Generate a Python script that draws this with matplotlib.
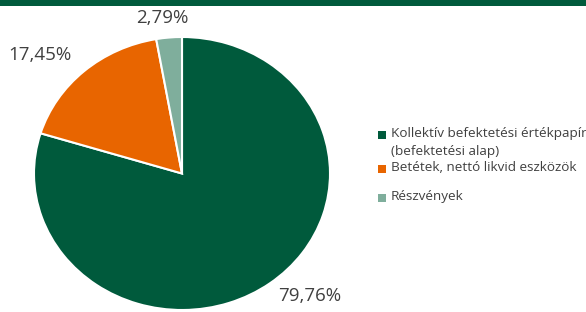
import matplotlib.pyplot as plt
from matplotlib.patches import Rectangle

# Adatok
categories = [
    "Kollektív befektetési értékpapír\n(befektetési alap)",
    "Betétek, nettó likvid eszközök",
    "Részvények",
]
values = [79.76, 17.45, 2.79]
value_labels = ["79,76%", "17,45%", "2,79%"]
colors = ["#005A3C", "#E86500", "#7FAE9C"]

plt.rcParams["font.family"] = ["Open Sans", "DejaVu Sans"]

fig = plt.figure(figsize=(5.86, 3.12), dpi=100)

# zöld sáv a tetején
fig.patches.append(Rectangle((0, 1 - 6 / 312), 1, 6 / 312, transform=fig.transFigure,
                             facecolor="#005A3C", edgecolor="none"))

ax = fig.add_axes([34 / 586, 2 / 312, 296 / 586, 273 / 312])
wedges, _ = ax.pie(values, colors=colors, startangle=90, counterclock=False,
                   wedgeprops=dict(edgecolor="white", linewidth=1.5))
ax.set_aspect("auto")
ax.set_xlim(-1, 1)
ax.set_ylim(-1, 1)
ax.axis("off")

# százalék címkék (Excel "best fit" helyek)
label_pos = [(0.865, -0.90), (-0.96, 0.87), (-0.13, 1.14)]
for (lx, ly), txt in zip(label_pos, value_labels):
    ax.text(lx, ly, txt, ha="center", va="center", fontsize=13.5, color="#404040",
            clip_on=False)

# jelmagyarázat
leg_y = [135, 169, 198]
for y, c, lab in zip(leg_y, colors, categories):
    fig.patches.append(Rectangle((378 / 586, 1 - (y + 4) / 312), 8 / 586, 8 / 312,
                                 transform=fig.transFigure, facecolor=c, edgecolor="none"))
    fig.text(391 / 586, 1 - (y - 8) / 312, lab, ha="left", va="top", fontsize=9.7,
             color="#404040", linespacing=1.55)

fig.savefig("out.png", dpi=100)
